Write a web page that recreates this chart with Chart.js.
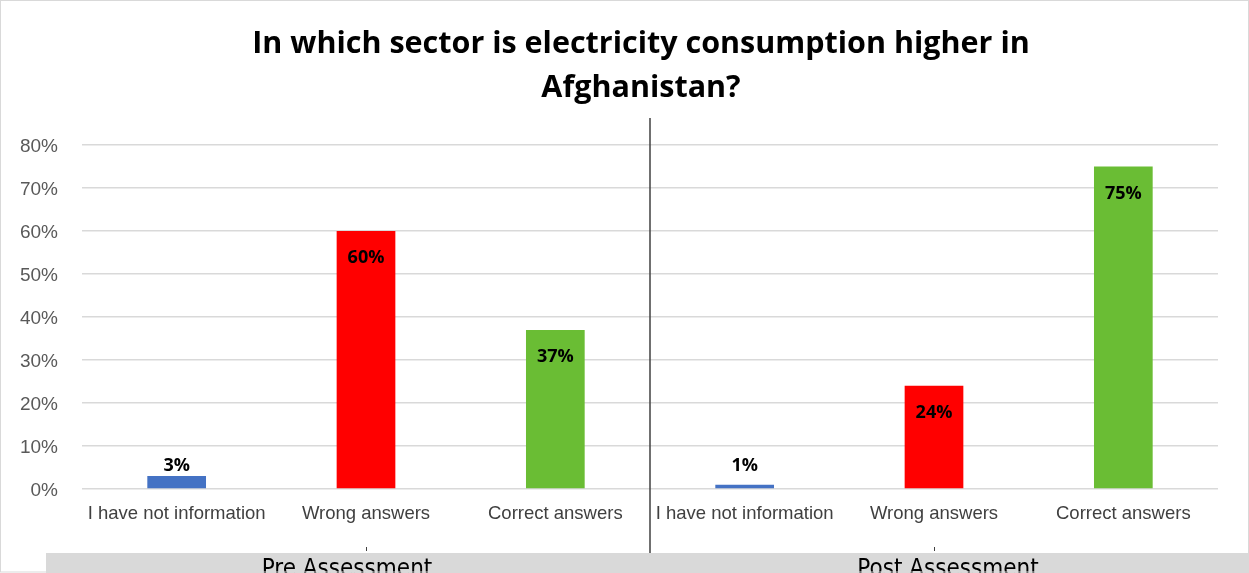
<!DOCTYPE html>
<html>
<head>
<meta charset="utf-8">
<script src="https://cdn.jsdelivr.net/npm/chart.js@4"></script>
<style>
html,body{margin:0;padding:0;background:#fff;}
#wrap{position:relative;width:1249px;height:573px;}
canvas{display:block;}
</style>
</head>
<body>
<div id="wrap"><canvas id="c" width="1249" height="573"></canvas></div>
<script>
const titleLines = ["In which sector is electricity consumption higher in", "Afghanistan?"];
const categories = ["I have not information", "Wrong answers", "Correct answers", "I have not information", "Wrong answers", "Correct answers"];
const values = [3, 60, 37, 1, 24, 75];
const barColors = ["#4472C4", "#FF0000", "#6ABD34", "#4472C4", "#FF0000", "#6ABD34"];
const groups = ["Pre Assessment", "Post Assessment"];
const yTicks = [0, 10, 20, 30, 40, 50, 60, 70, 80];

const decor = {
  id: 'decor',
  beforeDraw(chart) {
    const ctx = chart.ctx;
    ctx.save();
    ctx.fillStyle = '#fff';
    ctx.fillRect(0, 0, chart.width, chart.height);
    ctx.restore();
  },
  afterDraw(chart) {
    const ctx = chart.ctx;
    const xs = chart.scales.x;
    const ys = chart.scales.y;
    ctx.save();
    // title
    ctx.fillStyle = '#000';
    ctx.font = 'bold 30.5px "Open Sans", "Liberation Sans", sans-serif';
    ctx.textAlign = 'center';
    ctx.textBaseline = 'middle';
    ctx.fillText(titleLines[0], 641, 44);
    ctx.fillText(titleLines[1], 641, 88);
    // data labels
    ctx.font = 'bold 18px "Open Sans", "Liberation Sans", sans-serif';
    const meta = chart.getDatasetMeta(0);
    meta.data.forEach((bar, i) => {
      const y = Math.min(bar.y + 27, ys.getPixelForValue(0) - 23);
      ctx.fillText(values[i] + '%', bar.x, y);
    });
    // divider between groups
    const mid = (xs.getPixelForValue(2) + xs.getPixelForValue(3)) / 2;
    ctx.strokeStyle = '#404040';
    ctx.lineWidth = 1.5;
    ctx.beginPath();
    ctx.moveTo(mid, 118);
    ctx.lineTo(mid, 553);
    ctx.stroke();
    // group band
    ctx.fillStyle = '#D9D9D9';
    ctx.fillRect(46, 553, chart.width - 46, 20);
    // small group ticks
    ctx.strokeStyle = '#404040';
    ctx.lineWidth = 1;
    [xs.getPixelForValue(1), xs.getPixelForValue(4)].forEach(x => {
      ctx.beginPath();
      ctx.moveTo(Math.round(x) + 0.5, 547);
      ctx.lineTo(Math.round(x) + 0.5, 551);
      ctx.stroke();
    });
    // group labels
    ctx.fillStyle = '#000';
    ctx.font = '24px "Liberation Sans Narrow", "DejaVu Sans Condensed", sans-serif';
    ctx.textBaseline = 'alphabetic';
    ctx.fillText(groups[0], xs.getPixelForValue(1) - 19, 576);
    ctx.fillText(groups[1], xs.getPixelForValue(4) + 14, 576);
    // outer border
    ctx.strokeStyle = '#D9D9D9';
    ctx.lineWidth = 1;
    ctx.strokeRect(0.5, 0.5, chart.width - 1, chart.height - 1.5);
    ctx.restore();
  }
};

new Chart(document.getElementById('c'), {
  type: 'bar',
  data: {
    labels: categories,
    datasets: [{
      data: values,
      backgroundColor: barColors,
      borderWidth: 0,
      barPercentage: 0.31,
      categoryPercentage: 1.0
    }]
  },
  options: {
    responsive: false,
    animation: false,
    devicePixelRatio: 1,
    layout: { padding: { top: 145, right: 31, left: 0, bottom: 0 } },
    plugins: { legend: { display: false }, title: { display: false }, tooltip: { enabled: false } },
    scales: {
      x: {
        grid: { display: false, drawTicks: false },
        border: { display: false },
        ticks: {
          color: '#404040',
          font: { family: '"Liberation Sans", Arial, sans-serif', size: 18.5 },
          padding: 14,
          maxRotation: 0,
          autoSkip: false
        },
        afterFit(scale) { scale.height = 84; }
      },
      y: {
        min: 0, max: 80,
        afterBuildTicks(scale) { scale.ticks = yTicks.map(v => ({ value: v })); },
        grid: { color: '#D9D9D9', lineWidth: 1.5, drawTicks: false },
        border: { display: false },
        ticks: {
          color: '#595959',
          font: { family: '"Liberation Sans", Arial, sans-serif', size: 19 },
          padding: 24,
          labelOffset: 2,
          callback: v => v + '%'
        },
        afterFit(scale) { scale.width = 82; }
      }
    }
  },
  plugins: [decor]
});
</script>
</body>
</html>
